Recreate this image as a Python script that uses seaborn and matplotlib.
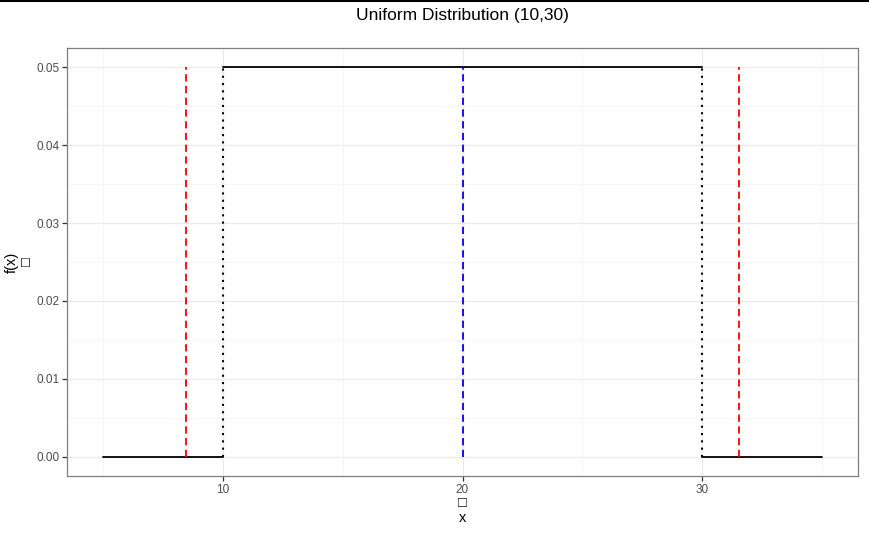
import numpy as np
import pandas as pd
import matplotlib
matplotlib.use("Agg")
import matplotlib.pyplot as plt
import seaborn as sns
from matplotlib.lines import Line2D
from matplotlib.ticker import MultipleLocator

# data
a, b = 10, 30
seg_x = [5, 10, 10, 30, 30, 35]
seg_y = [0.0, 0.0, 0.05, 0.05, 0.0, 0.0]
seg_id = [0, 0, 1, 1, 2, 2]
bound_x = [10, 30]
mean_x = [20]
sd_x = [8.45, 31.55]
dens_top = 0.05
x_ticks = [10, 20, 30]
y_ticks = [0.00, 0.01, 0.02, 0.03, 0.04, 0.05]
y_ticklabels = ["0.00", "0.01", "0.02", "0.03", "0.04", "0.05"]

sns.set_theme(style="white")
plt.rcParams['font.family'] = ['Liberation Sans', 'DejaVu Sans']

df = pd.DataFrame({"x": seg_x, "y": seg_y, "seg": seg_id})

fig = plt.figure(figsize=(8.69, 5.33), dpi=100)
ax = fig.add_axes([67/869, 1-476/533, (858-67)/869, (476-48)/533])

sns.lineplot(data=df, x="x", y="y", units="seg", estimator=None, color="black",
             linewidth=1.3, ax=ax, zorder=3)
ax.vlines(bound_x, 0, dens_top, colors="black", linestyles=(0, (1, 2.5)), linewidth=1.5, zorder=3)
ax.vlines(mean_x, 0, dens_top, colors="blue", linestyles=(0, (4, 2.5)), linewidth=1.3, zorder=3)
ax.vlines(sd_x, 0, dens_top, colors="red", linestyles=(0, (4, 2.5)), linewidth=1.3, zorder=3)

ax.set_xlim(3.5, 36.5)
ax.set_ylim(-0.0025, 0.0525)
ax.set_xticks(x_ticks)
ax.set_xticklabels([str(t) for t in x_ticks])
ax.set_yticks(y_ticks)
ax.set_yticklabels(y_ticklabels)
ax.xaxis.set_minor_locator(MultipleLocator(5))
ax.yaxis.set_minor_locator(MultipleLocator(0.005))
ax.grid(True, which="major", color="#ebebeb", linewidth=0.9)
ax.grid(True, which="minor", color="#f3f3f3", linewidth=0.5)
ax.set_axisbelow(True)
for s in ax.spines.values():
    s.set_color("#7f7f7f")
    s.set_linewidth(0.9)
ax.tick_params(axis="both", which="major", length=3.5, width=0.9, color="#333333",
               labelsize=8.5, labelcolor="#4d4d4d", pad=2, bottom=True, left=True)
ax.tick_params(which="minor", length=0)

ax.set_xlabel("\u25A1\nx", fontsize=10.5, color="black", labelpad=0, linespacing=1.15)
ax.set_ylabel("f(x)\n\u25A1", fontsize=10.5, color="black", labelpad=2, linespacing=1.1)
ax.set_title("Uniform Distribution (10,30)", fontsize=12.5, color="black", pad=20)

fig.add_artist(Line2D([0, 1], [1 - 1/533, 1 - 1/533], color="black", linewidth=1.5,
                      transform=fig.transFigure))

fig.savefig("out.png", dpi=100)
